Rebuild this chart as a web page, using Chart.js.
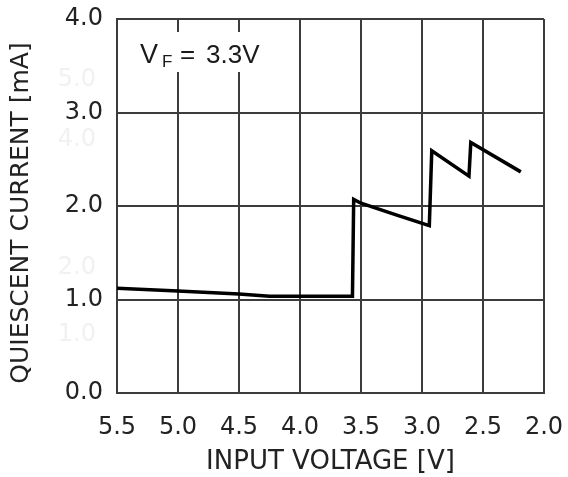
<!DOCTYPE html>
<html>
<head>
<meta charset="utf-8">
<script src="https://cdn.jsdelivr.net/npm/chart.js@4/dist/chart.umd.min.js"></script>
<style>
html,body{margin:0;padding:0;background:#fff;}
#wrap{width:568px;height:477px;}
</style>
</head>
<body>
<div id="wrap"><canvas id="c" width="568" height="477"></canvas></div>
<script>
// Data
const inputVoltage = [5.5, 5.0, 4.5, 4.25, 3.57, 3.56, 3.5, 3.2, 2.94, 2.92, 2.615, 2.60, 2.19];
const quiescentCurrent = [1.12, 1.09, 1.06, 1.035, 1.035, 2.07, 2.03, 1.90, 1.79, 2.59, 2.32, 2.68, 2.365];
const xTicks = [5.5, 5.0, 4.5, 4.0, 3.5, 3.0, 2.5, 2.0];
const yTicks = [0.0, 1.0, 2.0, 3.0, 4.0];
const xTitle = 'INPUT VOLTAGE [V]';
const yTitle = 'QUIESCENT CURRENT [mA]';
const annotationMain = 'V';
const annotationSub = 'F';
const annotationEq = '=';
const annotationValue = '3.3V';
const ghostLabels = ['5.0', '4.0', '2.0', '1.0'];
const ghostValues = [3.35, 2.71, 1.34, 0.62];

const points = inputVoltage.map((v, i) => ({x: v, y: quiescentCurrent[i]}));
const FONT = "'DejaVu Sans', sans-serif";
const AFONT = "'Liberation Sans', Arial, sans-serif";
const gridColor = '#3c3c3c';
const textColor = '#222';

function noPad(s) { s.paddingLeft = 0; s.paddingRight = 0; s.paddingTop = 0; s.paddingBottom = 0; }

const overlay = {
  id: 'overlay',
  beforeDraw(chart) {
    const ctx = chart.ctx;
    const ys = chart.scales.y;
    ctx.save();
    ctx.fillStyle = '#f1f1f1';
    ctx.font = '24px ' + FONT;
    ctx.textAlign = 'right';
    ctx.textBaseline = 'middle';
    ghostLabels.forEach((t, i) => ctx.fillText(t, 96, ys.getPixelForValue(ghostValues[i])));
    // y axis title
    ctx.fillStyle = textColor;
    ctx.font = '25px ' + FONT;
    ctx.textAlign = 'center';
    ctx.translate(21, 213);
    ctx.rotate(-Math.PI / 2);
    ctx.fillText(yTitle, 0, 0);
    ctx.restore();
  },
  afterDatasetsDraw(chart) {
    const ctx = chart.ctx;
    const xs = chart.scales.x, ys = chart.scales.y;
    ctx.save();
    ctx.fillStyle = '#fff';
    ctx.fillRect(xs.left + 3, ys.top + 13, 145, 40);
    ctx.fillStyle = '#1a1a1a';
    ctx.textBaseline = 'alphabetic';
    ctx.textAlign = 'left';
    ctx.font = '27px ' + AFONT;
    ctx.fillText(annotationMain, 140, 63);
    ctx.font = '17px ' + AFONT;
    ctx.fillText(annotationSub, 162, 67);
    ctx.font = '26px ' + AFONT;
    ctx.fillText(annotationEq, 180, 63);
    ctx.fillText(annotationValue, 206, 63);
    ctx.restore();
  }
};

new Chart(document.getElementById('c'), {
  type: 'line',
  data: {
    datasets: [{
      data: points,
      borderColor: '#000',
      borderWidth: 3.5,
      pointRadius: 0,
      tension: 0,
      fill: false,
      borderJoinStyle: 'miter'
    }]
  },
  options: {
    responsive: false,
    animation: false,
    devicePixelRatio: 1,
    layout: {padding: {left: 0, right: 24, top: 19, bottom: 0}},
    plugins: {legend: {display: false}, tooltip: {enabled: false}},
    scales: {
      x: {
        type: 'linear',
        reverse: true,
        min: 2.0,
        max: 5.5,
        afterBuildTicks(s) { s.ticks = xTicks.map(v => ({value: v})); },
        afterFit(s) { s.height = 84; noPad(s); },
        ticks: {
          color: textColor,
          font: {family: FONT, size: 24},
          padding: 20,
          maxRotation: 0,
          autoSkip: false,
          callback: v => Number(v).toFixed(1)
        },
        grid: {color: gridColor, lineWidth: 2, drawTicks: false},
        border: {color: gridColor, width: 2},
        title: {
          display: true,
          text: xTitle,
          color: textColor,
          font: {family: FONT, size: 26, lineHeight: 1.1},
          padding: {top: 0, bottom: 0}
        }
      },
      y: {
        type: 'linear',
        min: 0,
        max: 4,
        afterBuildTicks(s) { s.ticks = yTicks.map(v => ({value: v})); },
        afterFit(s) { s.width = 117; noPad(s); },
        ticks: {
          color: textColor,
          font: {family: FONT, size: 24},
          padding: 14,
          autoSkip: false,
          callback: v => Number(v).toFixed(1)
        },
        grid: {color: gridColor, lineWidth: 2, drawTicks: false},
        border: {color: gridColor, width: 2},
        title: {display: false}
      }
    }
  },
  plugins: [overlay]
});
</script>
</body>
</html>
